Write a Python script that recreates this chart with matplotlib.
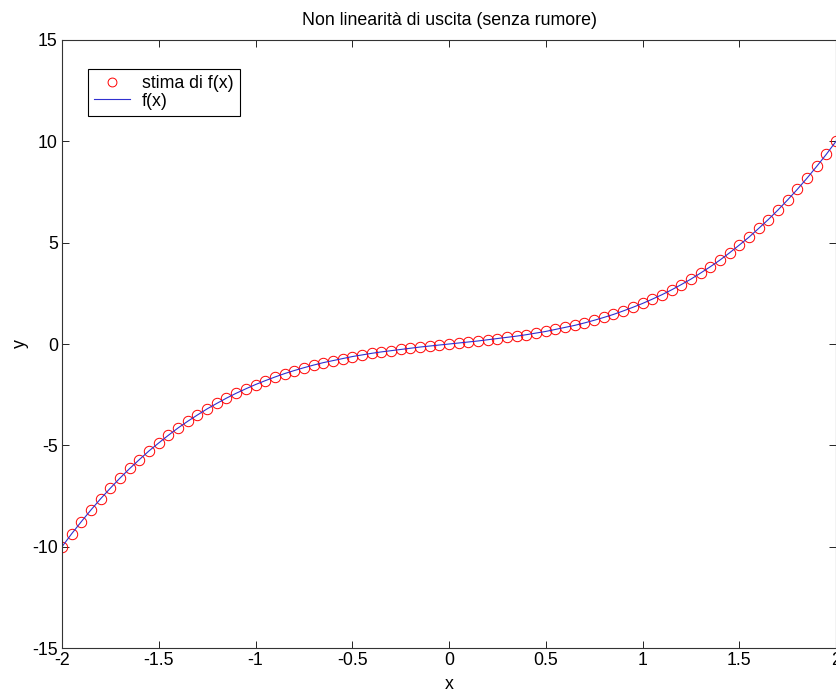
import numpy as np
import matplotlib.pyplot as plt

plt.rcParams['font.family'] = ['Liberation Sans', 'DejaVu Sans']
plt.rcParams['axes.unicode_minus'] = False

# punti x della griglia (passo 0.05 da -2 a 2)
x = np.linspace(-2, 2, 81)

# valori (stima e funzione coincidono)
stima_y = [-10.00, -9.36, -8.76, -8.18, -7.63, -7.11, -6.61, -6.14, -5.70, -5.27,
           -4.88, -4.50, -4.14, -3.81, -3.50, -3.20, -2.93, -2.67, -2.43, -2.21,
           -2.00, -1.81, -1.63, -1.46, -1.31, -1.17, -1.04, -0.92, -0.82, -0.72,
           -0.62, -0.54, -0.46, -0.39, -0.33, -0.27, -0.21, -0.15, -0.10, -0.05,
           0.00,
           0.05, 0.10, 0.15, 0.21, 0.27, 0.33, 0.39, 0.46, 0.54, 0.62,
           0.72, 0.82, 0.92, 1.04, 1.17, 1.31, 1.46, 1.63, 1.81, 2.00,
           2.21, 2.43, 2.67, 2.93, 3.20, 3.50, 3.81, 4.14, 4.50, 4.88,
           5.27, 5.70, 6.14, 6.61, 7.11, 7.63, 8.18, 8.76, 9.36, 10.00]
f_y = list(stima_y)

xticks = [-2, -1.5, -1, -0.5, 0, 0.5, 1, 1.5, 2]
xticklabels = ['-2', '-1.5', '-1', '-0.5', '0', '0.5', '1', '1.5', '2']
yticks = [-15, -10, -5, 0, 5, 10, 15]

fs = 12.8

fig = plt.figure(figsize=(8.36, 6.93), dpi=100)
ax = fig.add_axes([0.0742, 0.0649, 0.9258, 0.8774])

ax.plot(x, stima_y, 'o', color='red', mfc='none', markersize=7.5, markeredgewidth=0.7,
        label='stima di f(x)')
ax.plot(x, f_y, '-', color='#3030d0', linewidth=0.8, label='f(x)')

ax.set_xlim(-2, 2)
ax.set_ylim(-15, 15)
ax.set_xticks(xticks)
ax.set_xticklabels(xticklabels)
ax.set_yticks(yticks)
ax.tick_params(direction='in', top=True, right=True, length=5, width=0.6,
               labelsize=fs, pad=3)
for s in ax.spines.values():
    s.set_linewidth(0.8)
    s.set_color('#333333')

ax.set_xlabel('x', fontsize=fs, labelpad=5)
ax.set_ylabel('y', fontsize=fs, labelpad=2)
ax.set_title('Non linearità di uscita (senza rumore)', fontsize=fs, pad=11)

leg = ax.legend(loc='upper left', bbox_to_anchor=(0.0335, 0.953), fontsize=fs,
                fancybox=False, edgecolor='black', framealpha=1,
                borderpad=0.35, labelspacing=0.05, handlelength=2.0,
                handletextpad=0.7, borderaxespad=0, markerscale=0.85)
leg.get_frame().set_linewidth(0.8)

fig.savefig('out.png', dpi=100)
